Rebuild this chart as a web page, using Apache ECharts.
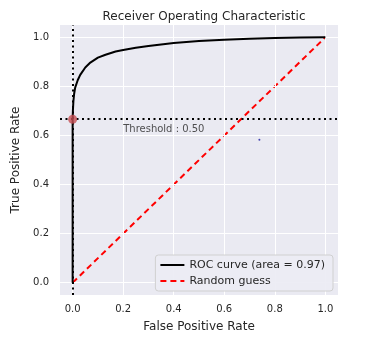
<!DOCTYPE html>
<html><head><meta charset="utf-8">
<script src="https://cdn.jsdelivr.net/npm/echarts@6/dist/echarts.min.js"></script>
<style>html,body{margin:0;padding:0;background:#fff}#c{width:367px;height:360px}</style>
</head><body><div id="c"></div>
<script>
var fpr = [0, 0, 0.001, 0.003, 0.006, 0.01, 0.02, 0.03, 0.05, 0.07, 0.1, 0.13, 0.17, 0.2, 0.25, 0.3, 0.35, 0.4, 0.5, 0.6, 0.7, 0.8, 0.9, 1.0];
var tpr = [0, 0.666, 0.70, 0.74, 0.77, 0.795, 0.825, 0.847, 0.877, 0.897, 0.917, 0.929, 0.942, 0.948, 0.957, 0.964, 0.971, 0.977, 0.985, 0.99, 0.994, 0.997, 0.999, 1.0];
var randX = [0, 1];
var randY = [0, 1];
var thresholdPoint = [0, 0.666];
var thresholdLabel = 'Threshold : 0.50';
var labelPos = [0.2, 0.625];
var strayPoint = [0.739, 0.583];
var xTicks = [0, 0.2, 0.4, 0.6, 0.8, 1.0];
var yTicks = [0, 0.2, 0.4, 0.6, 0.8, 1.0];
var legendNames = ['ROC curve (area = 0.97)', 'Random guess'];

var txt = '#262626';
var font = 'DejaVu Sans';
function zip(a, b) { return a.map(function (v, i) { return [v, b[i]]; }); }

var chart = echarts.init(document.getElementById('c'), null, {renderer: 'canvas'});
chart.setOption({
  backgroundColor: '#ffffff',
  animation: false,
  textStyle: {fontFamily: font},
  title: {text: 'Receiver Operating Characteristic', left: 199, top: 6, textAlign: 'center',
    textStyle: {fontSize: 12, fontWeight: 'normal', color: txt, fontFamily: font}},
  grid: {left: 60, right: 29, top: 25, bottom: 65, show: true, backgroundColor: '#eaeaf2', borderWidth: 0},
  legend: {
    data: [{name: legendNames[0]}, {name: legendNames[1]}],
    orient: 'vertical', right: 34, bottom: 69, z: 50,
    itemWidth: 24, itemHeight: 12, itemGap: 4,
    padding: [4, 8, 4, 4],
    itemStyle: {opacity: 0},
    backgroundColor: 'rgba(236,236,244,0.92)', borderColor: '#d0d0d0', borderWidth: 1, borderRadius: 3,
    textStyle: {fontSize: 11, color: txt, fontFamily: font, lineHeight: 12}
  },
  xAxis: {
    type: 'value', min: -0.05, max: 1.05,
    name: 'False Positive Rate', nameLocation: 'middle', nameGap: 26,
    nameTextStyle: {fontSize: 12, color: txt, fontFamily: font},
    axisLine: {show: false},
    axisTick: {show: false, customValues: xTicks},
    axisLabel: {customValues: xTicks, fontSize: 10, color: txt, margin: 9,
      formatter: function (v) { return v.toFixed(1); }},
    splitLine: {show: false}
  },
  yAxis: {
    type: 'value', min: -0.05, max: 1.05,
    name: 'True Positive Rate', nameLocation: 'middle', nameGap: 33, nameRotate: 90,
    nameTextStyle: {fontSize: 12, color: txt, fontFamily: font},
    axisLine: {show: false},
    axisTick: {show: false, customValues: yTicks},
    axisLabel: {customValues: yTicks, fontSize: 10, color: txt, margin: 11,
      formatter: function (v) { return v.toFixed(1); }},
    splitLine: {show: false}
  },
  series: [
    {
      type: 'line', name: '__grid', data: [], silent: true,
      markLine: {
        silent: true, symbol: 'none', label: {show: false},
        lineStyle: {color: '#ffffff', width: 1, type: 'solid'},
        data: xTicks.map(function (v) { return {xAxis: v}; }).concat(yTicks.map(function (v) { return {yAxis: v}; }))
      },
      z: 1
    },
    {
      type: 'line', name: legendNames[0], data: zip(fpr, tpr), symbol: 'none',
      lineStyle: {color: '#000000', width: 2}, itemStyle: {color: '#000000'}, z: 5
    },
    {
      type: 'line', name: legendNames[1], data: zip(randX, randY), symbol: 'none',
      lineStyle: {color: '#ff0000', width: 2, type: [6, 4]}, itemStyle: {color: '#ff0000'}, z: 4
    },
    {
      type: 'line', name: '__thr', data: [], silent: true,
      markLine: {
        silent: true, symbol: 'none', label: {show: false},
        lineStyle: {color: '#000000', width: 2, type: [2, 3.5]},
        data: [{xAxis: thresholdPoint[0]}, {yAxis: thresholdPoint[1]}]
      },
      z: 3
    },
    {
      type: 'scatter', name: '__pt', data: [thresholdPoint], symbolSize: 9,
      itemStyle: {color: '#c44e52'}, z: 6
    },
    {
      type: 'scatter', name: '__stray', data: [strayPoint], symbolSize: 2,
      itemStyle: {color: '#1a1aa0'}, z: 6
    },
    {
      type: 'scatter', name: '__label', data: [labelPos], symbolSize: 0,
      label: {show: true, position: 'right', distance: 0, formatter: thresholdLabel,
        fontSize: 10, color: txt, fontFamily: font}, z: 6
    }
  ]
});
</script></body></html>
